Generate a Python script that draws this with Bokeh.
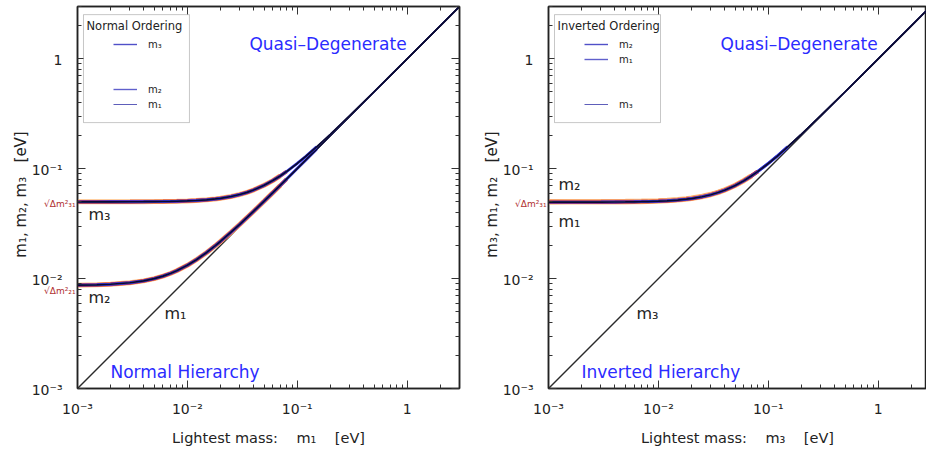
import math
from bokeh.plotting import figure
from bokeh.models import (LogAxis, FixedTicker, CustomJSTickFormatter, Label,
                          BoxAnnotation, Legend, LegendItem, Range1d)
from bokeh.core.properties import value
from bokeh.layouts import row
from bokeh.embed import file_html
from bokeh.resources import INLINE

# ---------------- data ----------------
lightest = [0.001, 0.0015, 0.002, 0.003, 0.004, 0.005, 0.006, 0.007, 0.008, 0.01,
            0.012, 0.015, 0.018, 0.02, 0.025, 0.03, 0.035, 0.04, 0.05, 0.06,
            0.07, 0.08, 0.1, 0.12, 0.15, 0.2, 0.3, 0.5, 0.7, 1.0, 2.0, 3.0]
no_m2 = [0.00872, 0.00879, 0.00889, 0.00917, 0.00954, 0.0100, 0.01054, 0.01114, 0.01179, 0.01323,
         0.01480, 0.01732, 0.01998, 0.02179, 0.02646, 0.03122, 0.03606, 0.04093, 0.05074, 0.06062,
         0.07053, 0.08047, 0.1004, 0.1203, 0.1503, 0.2002, 0.3001, 0.5, 0.7, 1.0, 2.0, 3.0]
no_m3 = [0.05001, 0.05002, 0.05004, 0.05009, 0.05016, 0.05025, 0.05036, 0.05049, 0.05064, 0.05099,
         0.05142, 0.05220, 0.05314, 0.05385, 0.05590, 0.05831, 0.06103, 0.06403, 0.07071, 0.07810,
         0.08602, 0.09434, 0.1118, 0.1300, 0.1581, 0.2062, 0.3041, 0.5025, 0.7018, 1.0012, 2.0006, 3.0004]
io_m1 = [0.04971, 0.04972, 0.04974, 0.04979, 0.04986, 0.04995, 0.05006, 0.05019, 0.05034, 0.05070,
         0.05113, 0.05191, 0.05286, 0.05357, 0.05563, 0.05805, 0.06079, 0.06380, 0.07050, 0.07791,
         0.08585, 0.09418, 0.1117, 0.1299, 0.1580, 0.2061, 0.3041, 0.5025, 0.7018, 1.0012, 2.0006, 3.0004]
io_m2 = [0.05031, 0.05032, 0.05034, 0.05039, 0.05046, 0.05055, 0.05066, 0.05078, 0.05093, 0.05128,
         0.05171, 0.05249, 0.05342, 0.05413, 0.05617, 0.05857, 0.06128, 0.06427, 0.07092, 0.07829,
         0.08620, 0.09450, 0.1119, 0.1301, 0.1582, 0.2062, 0.3042, 0.5025, 0.7018, 1.0013, 2.0006, 3.0004]
diag = [0.001, 3.0]
decades = [0.001, 0.01, 0.1, 1.0]
decade_text = ["10⁻³", "10⁻²", "10⁻¹", "1"]
decade_labels = {"-3": "10⁻³", "-2": "10⁻²", "-1": "10⁻¹", "0": "1"}

# ---------------- layout helpers ----------------
DEC = 109.9          # pixels per decade
FT = 6               # frame top (px)
FB = 388             # frame bottom (px)
H = 456
GUTTER = 77          # width of the strip holding the y tick labels
OVER = 16            # main panel canvas overlaps the strip by this much
SHIFT = -5           # vertical correction for the strip's texts (px)
FONT = "DejaVu Sans"
NB = "\u00a0"


def px2x(px, x0):
    return 10 ** (-3 + (px - x0) / DEC)


def py2y(py):
    return 10 ** (-3 + (FB - py) / DEC)


minor = [m * 10 ** e for e in (-3, -2, -1, 0) for m in range(2, 10) if m * 10 ** e <= 3.0]


def style_axis(ax, show_labels):
    ax.ticker = FixedTicker(ticks=decades, minor_ticks=minor)
    if show_labels:
        ax.formatter = CustomJSTickFormatter(args=dict(labels=decade_labels), code="""
            const e = Math.round(Math.log10(tick));
            return labels[String(e)] ?? "";
        """)
    else:
        ax.formatter = CustomJSTickFormatter(code="return '';")
        ax.major_label_standoff = 0
    ax.major_tick_in = 8
    ax.major_tick_out = 0
    ax.minor_tick_in = 4
    ax.minor_tick_out = 0
    ax.major_tick_line_color = "#333333"
    ax.minor_tick_line_color = "#333333"
    ax.axis_line_color = "#222222"
    ax.axis_line_width = 1.5
    ax.major_label_text_font = FONT
    ax.major_label_text_font_size = "14px"
    ax.major_label_text_color = "#222222"
    ax.axis_label_text_font = FONT
    ax.axis_label_text_font_style = "normal"
    ax.axis_label_text_color = "#222222"


def band(p, xs, ys, legend_color):
    # coloured band: several lines of decreasing width
    lim = {"#ffbf80": 0.07, "#d83a28": 0.09, "#3232e6": 0.16}
    for col, w in (("#ffbf80", 5.0), ("#d83a28", 3.8), ("#3232e6", 2.9)):
        xx = [x for x in xs if x <= lim[col]]
        yy = [y for x, y in zip(xs, ys) if x <= lim[col]]
        p.line(xx, yy, line_color=col, line_width=w)
    leg_r = p.line(xs, ys, line_color=legend_color, line_width=1.4)
    p.line(xs, ys, line_color="#0a0a30", line_width=1.7)
    return leg_r


def make_gutter(ylab, sqrt_labels):
    """Strip left of a panel: y tick labels, red sqrt labels, y axis title."""
    g = figure(title=None, width=GUTTER, height=H, frame_width=GUTTER, frame_height=H,
               x_range=Range1d(0, GUTTER), y_range=Range1d(py2y(H), py2y(0)),
               y_axis_type="log", x_axis_location=None, y_axis_location=None,
               min_border_left=0, min_border_right=0, min_border_top=0, min_border_bottom=0,
               output_backend="svg", toolbar_location=None)
    g.xgrid.visible = False
    g.ygrid.visible = False
    g.outline_line_color = None
    g.background_fill_color = "white"
    g.border_fill_color = "white"
    g.text(x=[GUTTER - 15] * len(decades), y=decades, text=decade_text, y_offset=SHIFT,
           text_font=value(FONT), text_font_size=value("14px"), text_color="#222222",
           text_align="right", text_baseline="middle")
    g.text(x=[GUTTER - 2] * len(sqrt_labels), y=[py2y(py) for _, py in sqrt_labels],
           text=[t for t, _ in sqrt_labels], y_offset=SHIFT,
           text_font=value(FONT), text_font_size=value("9px"), text_color="#b03030",
           text_align="right", text_baseline="middle")
    g.add_layout(Label(x=20, y=py2y((FT + FB) / 2 - 4), y_offset=-SHIFT, text=ylab,
                       angle=math.pi / 2,
                       text_font=FONT, text_font_size="15px", text_color="#222222",
                       text_align="center", text_baseline="middle"))
    return g


def make_panel(x0, frame_w, x_end, xlab, title, legend_order,
               curve_labels, hier_text, curves, right_axis, mb_right):
    p = figure(x_axis_type="log", y_axis_type="log",
               x_range=Range1d(1e-3, x_end), y_range=Range1d(1e-3, 3.0),
               frame_width=frame_w, frame_height=FB - FT,
               min_border_left=OVER, min_border_right=mb_right,
               min_border_top=FT, min_border_bottom=H - FB,
               margin=(0, 0, 0, -OVER),
               output_backend="svg", toolbar_location=None)
    p.xgrid.visible = False
    p.ygrid.visible = False
    p.outline_line_color = "#222222"
    p.outline_line_width = 1.5
    p.background_fill_color = "white"
    p.border_fill_alpha = 0.0

    style_axis(p.xaxis[0], True)
    style_axis(p.yaxis[0], False)
    p.xaxis[0].major_label_standoff = 12
    p.xaxis[0].axis_label = xlab
    p.xaxis[0].axis_label_text_font_size = "14.5px"
    p.xaxis[0].axis_label_standoff = 10

    top = LogAxis()
    style_axis(top, False)
    p.add_layout(top, "above")
    if right_axis:
        rt = LogAxis()
        style_axis(rt, False)
        p.add_layout(rt, "right")

    # diagonal (lightest mass) line
    diag_leg = p.line(diag, diag, line_color="#3535a8", line_width=0.8)
    p.line(diag, diag, line_color="#2a2a2a", line_width=1.4)
    renders = {"diag": diag_leg}
    for name, ys, col in curves:
        renders[name] = band(p, lightest, ys, col)
    blank = p.line(diag, diag, line_alpha=0.0)

    # legend box + title
    p.add_layout(BoxAnnotation(left=px2x(x0 + 6, x0), right=px2x(x0 + 112, x0),
                               top=py2y(14), bottom=py2y(122),
                               fill_color="white", fill_alpha=1.0,
                               line_color="#444444", line_width=1))
    p.add_layout(Label(x=px2x(x0 + 9, x0), y=py2y(25), text=title,
                       text_font=FONT, text_font_size="11.5px", text_color="#222222",
                       text_baseline="middle"))
    items = []
    for lab, key in legend_order:
        r = renders[key] if key else blank
        items.append(LegendItem(label=lab, renderers=[r]))
    leg = Legend(items=items, location=(36, FB - 110),
                 border_line_color=None, background_fill_alpha=0.0,
                 padding=0, margin=0, spacing=3,
                 glyph_width=24, glyph_height=12, label_height=12,
                 label_standoff=11, label_text_font=FONT,
                 label_text_font_size="10px", label_text_color="#222222")
    p.add_layout(leg)

    # curve labels
    for txt, px, py in curve_labels:
        p.add_layout(Label(x=px2x(px, x0), y=py2y(py), text=txt,
                           text_font=FONT, text_font_size="16px", text_color="#222222",
                           text_baseline="middle"))
    # regime labels
    p.add_layout(Label(x=px2x(x0 + 172, x0), y=py2y(43), text="Quasi–Degenerate",
                       text_font=FONT, text_font_size="17px", text_color="#2b2bff",
                       text_baseline="middle"))
    p.add_layout(Label(x=px2x(x0 + 33, x0), y=py2y(371), text=hier_text,
                       text_font=FONT, text_font_size="17px", text_color="#2b2bff",
                       text_baseline="middle"))
    return p


g1 = make_gutter(f"m₁, m₂, m₃{NB*3}[eV]", [("√Δm²₃₁", 202), ("√Δm²₂₁", 289)])
p1 = make_panel(
    77, 382, 3.0,
    f"Lightest mass:{NB*4}m₁{NB*4}[eV]", "Normal Ordering",
    [("m₃", "m3"), (" ", None), (" ", None), ("m₂", "m2"), ("m₁", "diag")],
    [("m₃", 88, 214), ("m₂", 88, 297), ("m₁", 164, 313)],
    "Normal Hierarchy",
    [("m2", no_m2, "#6060cc"), ("m3", no_m3, "#5050c8")], True, 12)

g2 = make_gutter(f"m₃, m₁, m₂{NB*3}[eV]", [("√Δm²₃₁", 202)])
x_end_right = 10 ** (-3 + 378 / DEC)
p2 = make_panel(
    548, 378, x_end_right,
    f"Lightest mass:{NB*4}m₃{NB*4}[eV]", "Inverted Ordering",
    [("m₂", "m2"), ("m₁", "m1"), (" ", None), (" ", None), ("m₃", "diag")],
    [("m₂", 558, 184), ("m₁", 558, 221), ("m₃", 636, 313)],
    "Inverted Hierarchy",
    [("m2", io_m2, "#5050c8"), ("m1", io_m1, "#6060cc")], False, 0)

layout = row(g1, p1, g2, p2)
open("out.html", "w").write(file_html(layout, INLINE))
